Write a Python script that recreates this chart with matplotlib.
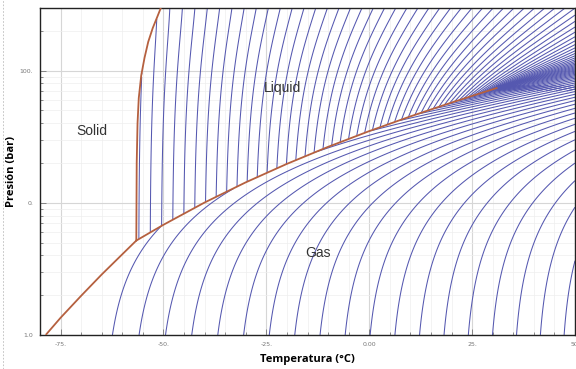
import numpy as np
import matplotlib
matplotlib.use("Agg")
import matplotlib.pyplot as plt
from matplotlib.lines import Line2D
from matplotlib.ticker import FixedLocator, MultipleLocator, NullFormatter

# ---- values (°C, bar) ----
sub_T = [-78.5, -75.0, -70.0, -65.0, -60.0, -56.6]
sub_P = [1.01, 1.35, 1.98, 2.87, 4.08, 5.18]
melt_T = [-56.6, -56.5, -56.3, -56.0, -55.4, -54.6, -53.7, -52.6, -51.5, -50.6]
melt_P = [5.18, 20.0, 40.0, 62.0, 92.0, 125.0, 165.0, 210.0, 255.0, 300.0]
boil_T = [-56.6, -50.0, -40.0, -30.0, -20.0, -10.0, 0.0, 10.0, 20.0, 25.0, 31.0]
boil_P = [5.18, 6.82, 10.05, 14.28, 19.70, 26.49, 34.85, 45.02, 57.29, 64.34, 73.8]

# isenthalps: one every 5 kJ/kg, first gas line crosses 1 bar at -62.4 °C
h_step = 5.0
first_gas_T, first_gas_P = -62.4, 1.0

# CO2 data for the Peng-Robinson model that traces the isenthalps
Tc, Pc, omega, M = 304.13, 73.77, 0.2239, 0.04401
cp_ig = [22.26, 5.981e-2, -3.501e-5, 7.469e-9]   # J/(mol K)
h_shift = 0.04   # kJ/kg per bar, pressure correction so liquid lines lean right

x_ticks = [-75, -50, -25, 0, 25, 50]
x_labels = ["-75.", "-50.", "-25.", "0.00", "25.", "50."]
y_ticks = [1, 10, 100]
y_labels = ["1.0", "0.", "100."]
regions = [("Solid", -67.5, 35.0), ("Liquid", -21.0, 74.0), ("Gas", -12.5, 4.2)]

BLUE = "#5558b0"
BROWN = "#b5603f"

R = 8.314462618
SQ2 = np.sqrt(2.0)
kappa = 0.37464 + 1.54226 * omega - 0.26992 * omega ** 2
ac = 0.45724 * R ** 2 * Tc ** 2 / (Pc * 1e5)
b = 0.07780 * R * Tc / (Pc * 1e5)


def enthalpy(t_c, p_bar, liquid):
    """PR enthalpy in kJ/kg; liquid=True picks the smallest root."""
    T = t_c + 273.15
    P = p_bar * 1e5
    sq = 1 + kappa * (1 - np.sqrt(T / Tc))
    a = ac * sq ** 2
    dadT = -ac * kappa * sq / np.sqrt(T * Tc)
    A = a * P / (R * T) ** 2
    B = b * P / (R * T)
    c2 = -(1 - B)
    c1 = A - 3 * B ** 2 - 2 * B
    c0 = -(A * B - B ** 2 - B ** 3)
    p = c1 - c2 ** 2 / 3
    q = 2 * c2 ** 3 / 27 - c2 * c1 / 3 + c0
    D = (q / 2) ** 2 + (p / 3) ** 3
    sD = np.sqrt(np.maximum(D, 0))
    z_one = np.cbrt(-q / 2 + sD) + np.cbrt(-q / 2 - sD)
    m = 2 * np.sqrt(np.maximum(-p / 3, 1e-30))
    ang = np.arccos(np.clip(3 * q / np.where(p < 0, p, -1e-30) / m, -1, 1)) / 3
    z_hi = m * np.cos(ang)
    z_lo = m * np.cos(ang - 4 * np.pi / 3)
    Z = np.where(D > 0, z_one, np.where(liquid, z_lo, z_hi)) - c2 / 3
    h_dep = R * T * (Z - 1) + (T * dadT - a) / (2 * SQ2 * b) * np.log(
        (Z + (1 + SQ2) * B) / (Z + (1 - SQ2) * B))
    h_ig = sum(c * T ** (i + 1) / (i + 1) for i, c in enumerate(cp_ig))
    return (h_ig + h_dep) / M / 1000.0 - h_shift * p_bar


t_grid = np.linspace(-80, 50, 700)
p_grid = np.logspace(0, np.log10(300), 700)
TT, PP = np.meshgrid(t_grid, p_grid)
lp = np.log10(PP)

t_crit, p_crit = boil_T[-1], boil_P[-1]
p_sat = 10 ** np.interp(TT, boil_T, np.log10(boil_P))
liq_side = np.where(TT < t_crit, PP > p_sat, PP > p_crit)
solid = np.where(PP >= sub_P[-1],
                 TT < np.interp(lp, np.log10(melt_P), melt_T),
                 TT < np.interp(lp, np.log10(sub_P), sub_T))
super_c = TT >= t_crit

h_liq = enthalpy(TT, PP, True)
h_gas = enthalpy(TT, PP, False)
h0 = float(enthalpy(np.array(first_gas_T), np.array(first_gas_P), False))

liq_mask = solid | ~(liq_side | (super_c & (PP > 0.95 * p_crit)))
gas_mask = solid | ~(~liq_side | (super_c & (PP < 1.05 * p_crit)))
gas_mask |= (h_gas < h0 - h_step / 2) & (TT < 0)

h_liq = np.ma.array(h_liq, mask=liq_mask)
h_gas = np.ma.array(h_gas, mask=gas_mask)

k_lo = int(np.floor((min(h_liq.min(), h_gas.min()) - h0) / h_step))
k_hi = int(np.ceil((max(h_liq.max(), h_gas.max()) - h0) / h_step))
levels = h0 + h_step * np.arange(k_lo, k_hi + 1)

fig = plt.figure(figsize=(5.76, 3.69), dpi=100)
ax = fig.add_axes([40 / 576, 1 - 335 / 369, 535 / 576, 327.5 / 369])

ax.contour(TT, PP, h_liq, levels=levels, colors=BLUE, linewidths=0.75,
           linestyles="solid", zorder=2)
ax.contour(TT, PP, h_gas, levels=levels, colors=BLUE, linewidths=0.75,
           linestyles="solid", zorder=2)

for xs, ys in [(sub_T, sub_P), (melt_T, melt_P), (boil_T, boil_P)]:
    ax.plot(xs, ys, color=BROWN, lw=1.3, zorder=3, solid_capstyle="round")

for name, tx, ty in regions:
    ax.text(tx, ty, name, fontsize=10, color="#333333", ha="center",
            va="center", family="Liberation Sans", zorder=4)

ax.set_yscale("log")
ax.set_xlim(-80, 50)
ax.set_ylim(1, 300)
ax.xaxis.set_major_locator(FixedLocator(x_ticks))
ax.set_xticklabels(x_labels)
ax.xaxis.set_minor_locator(MultipleLocator(5))
ax.yaxis.set_major_locator(FixedLocator(y_ticks))
ax.set_yticklabels(y_labels)
ax.yaxis.set_minor_locator(FixedLocator(
    [v * d for d in (1, 10, 100) for v in range(2, 10) if v * d < 300]))
ax.yaxis.set_minor_formatter(NullFormatter())
ax.tick_params(which="both", direction="in", colors="#777777",
               labelsize=4.5, width=0.6)
ax.tick_params(which="major", length=4, pad=5)
ax.tick_params(which="minor", length=2.5)
ax.grid(which="major", color="#d6d6d6", lw=0.8)
ax.grid(which="minor", color="#eeeeee", lw=0.5)
ax.set_axisbelow(True)
for s in ax.spines.values():
    s.set_color("#222222")
    s.set_linewidth(1.0)

ax.set_xlabel("Temperatura (°C)", fontsize=8, fontweight="bold",
              family="Open Sans", labelpad=5)
ax.set_ylabel("Presión (bar)", fontsize=8, fontweight="bold",
              family="Open Sans", labelpad=2)

fig.add_artist(Line2D([0.005, 0.005], [0, 1], transform=fig.transFigure,
                      color="#bbbbbb", lw=0.6, ls=(0, (2, 2))))

fig.savefig("out.png", dpi=100)
